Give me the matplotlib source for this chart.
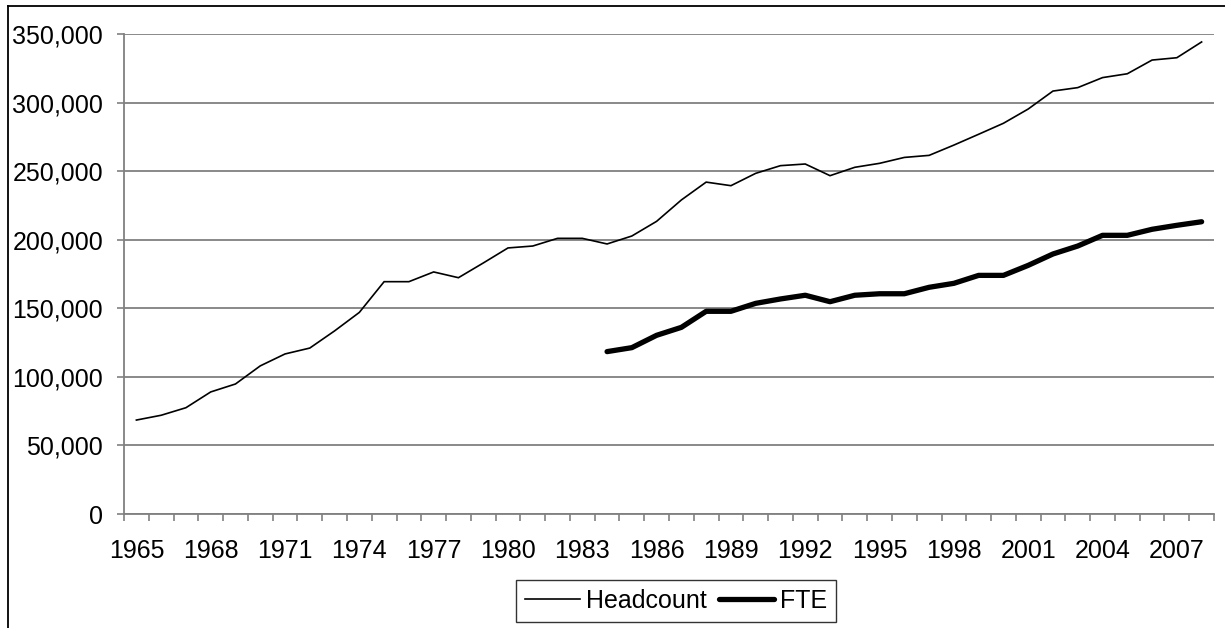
import matplotlib
matplotlib.use("Agg")
import matplotlib.pyplot as plt
from matplotlib.lines import Line2D
from matplotlib.ticker import FuncFormatter, FixedLocator

years = list(range(1965, 2009))
headcount = [68500, 72000, 77500, 89000, 94800, 108000, 116700, 121000, 133500, 147000,
             169400, 169400, 176500, 172300, 183000, 194000, 195400, 201000, 201000, 196900,
             202700, 213400, 229000, 242000, 239400, 248400, 254000, 255200, 246700, 252800,
             255700, 260000, 261500, 269000, 276900, 284900, 295300, 308400, 310900, 318200,
             321000, 331000, 332700, 344200]
fte_years = list(range(1984, 2009))
fte = [118400, 121300, 130300, 136100, 147800, 147800, 153600, 156800, 159500, 154800,
       159500, 160600, 160600, 165300, 168200, 174000, 174000, 181300, 189600, 195400,
       203200, 203200, 207600, 210500, 213100]
y_ticks = [0, 50000, 100000, 150000, 200000, 250000, 300000, 350000]
label_years = list(range(1965, 2009, 3))

plt.rcParams['font.family'] = ['Liberation Sans', 'DejaVu Sans']
FS = 18

W, H = 1225, 628
fig = plt.figure(figsize=(W / 100, H / 100), dpi=100)
ax = fig.add_axes([124 / W, (H - 514) / H, (1214 - 124) / W, (514 - 34) / H])

xi = [y - years[0] for y in years]
xf = [y - years[0] for y in fte_years]
ax.plot(xi, headcount, color='black', lw=1.2, label='Headcount', solid_joinstyle='miter')
ax.plot(xf, fte, color='black', lw=3.8, label='FTE', solid_capstyle='round')

ax.set_xlim(-0.5, len(years) - 0.5)
ax.set_ylim(0, 350000)
ax.set_yticks(y_ticks)
ax.yaxis.set_major_formatter(FuncFormatter(lambda v, p: f"{int(v):,}"))
ax.grid(axis='y', color='#808080', lw=1.3)
ax.set_axisbelow(True)

ax.xaxis.set_major_locator(FixedLocator([y - years[0] for y in label_years]))
ax.set_xticklabels([str(y) for y in label_years])
ax.xaxis.set_minor_locator(FixedLocator([i - 0.5 for i in range(len(years) + 1)]))
ax.tick_params(axis='x', which='major', length=0, pad=18, labelsize=FS)
ax.tick_params(axis='x', which='minor', length=5, color='#808080', width=1.2)
ax.tick_params(axis='y', length=5, color='#808080', width=1.2, pad=10, labelsize=FS)

for s in ['top', 'right']:
    ax.spines[s].set_visible(False)
for s in ['left', 'bottom']:
    ax.spines[s].set_color('#808080')
    ax.spines[s].set_linewidth(1.3)

# outer chart frame (left and top edges visible)
fig.add_artist(Line2D([8 / W, 8 / W], [0, 1 - 6 / H], transform=fig.transFigure, color='black', lw=1.3))
fig.add_artist(Line2D([8 / W, 1], [1 - 6 / H, 1 - 6 / H], transform=fig.transFigure, color='black', lw=1.3))

leg = fig.legend(loc='center', bbox_to_anchor=(676 / W, 1 - 601 / H), ncol=2, frameon=True,
                 fontsize=FS, fancybox=False, edgecolor='black', handlelength=2.2,
                 handletextpad=0.25, columnspacing=0.5, borderpad=0.35, borderaxespad=0)
leg.get_frame().set_linewidth(1.0)

fig.savefig('out.png', dpi=100)
